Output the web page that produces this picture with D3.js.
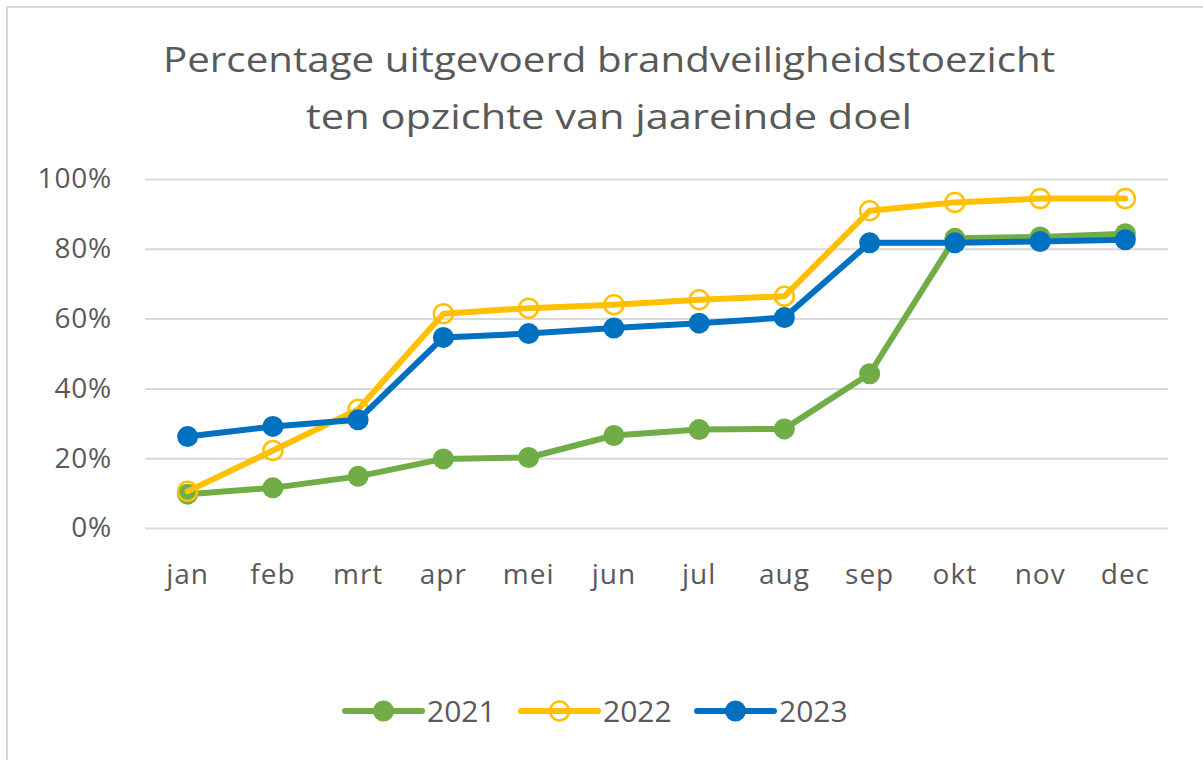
<!DOCTYPE html>
<html>
<head>
<meta charset="utf-8">
<script src="https://cdn.jsdelivr.net/npm/d3@7"></script>
<style>
  body { margin: 0; background: #fff; }
  svg { display: block; }
</style>
</head>
<body>
<svg id="chart" width="1203" height="760"></svg>
<script>
var months = ["jan", "feb", "mrt", "apr", "mei", "jun", "jul", "aug", "sep", "okt", "nov", "dec"];
var yTicks = [0, 0.2, 0.4, 0.6, 0.8, 1.0];
var titleLines = ["Percentage uitgevoerd brandveiligheidstoezicht", "ten opzichte van jaareinde doel"];

var values2021 = [0.097, 0.115, 0.148, 0.198, 0.202, 0.265, 0.282, 0.284, 0.442, 0.830, 0.834, 0.843];
var values2022 = [0.105, 0.222, 0.340, 0.614, 0.630, 0.640, 0.654, 0.664, 0.909, 0.933, 0.944, 0.944];
var values2023 = [0.262, 0.291, 0.310, 0.546, 0.557, 0.573, 0.587, 0.603, 0.817, 0.817, 0.821, 0.826];

var seriesNames = ["2021", "2022", "2023"];
var seriesColors = ["#70ad47", "#ffc000", "#0070c0"];
var seriesHollow = [false, true, false];

var series = seriesNames.map(function (name, i) {
  return {
    name: name,
    values: [values2021, values2022, values2023][i],
    color: seriesColors[i],
    hollow: seriesHollow[i]
  };
});

var textColor = "#595959",
  gridColor = "#d9d9d9",
  font = "'Open Sans', 'Liberation Sans', sans-serif";

var svg = d3.select("#chart");

// chart frame (runs past the right and bottom edge)
svg.append("rect")
  .attr("x", 7)
  .attr("y", 7)
  .attr("width", 1260)
  .attr("height", 800)
  .attr("fill", "#fff")
  .attr("stroke", gridColor)
  .attr("stroke-width", 2);

// title, stretched to the width seen in the picture
var titleWidths = [892, 606];
svg.append("g")
  .selectAll("text")
  .data(titleLines)
  .join("text")
  .attr("x", 609)
  .attr("y", function (d, i) { return 72 + i * 57; })
  .attr("text-anchor", "middle")
  .attr("font-family", font)
  .attr("font-size", 34)
  .attr("fill", textColor)
  .attr("textLength", function (d, i) { return titleWidths[i]; })
  .attr("lengthAdjust", "spacingAndGlyphs")
  .text(function (d) { return d; });

var xScale = d3.scaleBand()
  .domain(months)
  .range([145, 1168]);

var yScale = d3.scaleLinear()
  .domain([0, 1])
  .range([528, 179]);

var xPos = function (m) { return xScale(m) + xScale.bandwidth() / 2; };

// gridlines + y labels
var yAxis = d3.axisLeft(yScale)
  .tickValues(yTicks)
  .tickSize(-(1168 - 145))
  .tickPadding(33)
  .tickFormat(d3.format(".0%"));

var gy = svg.append("g")
  .attr("transform", "translate(145,0)")
  .call(yAxis);
gy.select(".domain").remove();
gy.selectAll(".tick line")
  .attr("stroke", gridColor)
  .attr("stroke-width", 2);
gy.selectAll(".tick text")
  .attr("font-family", font)
  .attr("font-size", 28)
  .attr("fill", textColor)
  .attr("letter-spacing", 0.8);

// x labels
var xAxis = d3.axisBottom(xScale)
  .tickSize(0)
  .tickPadding(0);

var gx = svg.append("g")
  .attr("transform", "translate(0,528)")
  .call(xAxis);
gx.select(".domain").remove();
gx.selectAll(".tick text")
  .attr("font-family", font)
  .attr("font-size", 28)
  .attr("fill", textColor)
  .attr("dy", null)
  .attr("y", 56)
  .attr("letter-spacing", 1);

// series
var line = d3.line()
  .x(function (d, i) { return xPos(months[i]); })
  .y(function (d) { return yScale(d); });

var plot = svg.append("g").attr("class", "series");

series.forEach(function (s) {
  var g = plot.append("g");
  g.append("path")
    .datum(s.values)
    .attr("d", line)
    .attr("fill", "none")
    .attr("stroke", s.color)
    .attr("stroke-width", 6)
    .attr("stroke-linejoin", "round")
    .attr("stroke-linecap", "round");

  g.selectAll("circle")
    .data(s.values)
    .join("circle")
    .attr("cx", function (d, i) { return xPos(months[i]); })
    .attr("cy", function (d) { return yScale(d); })
    .attr("r", s.hollow ? 9.5 : 10.5)
    .attr("fill", s.hollow ? "none" : s.color)
    .attr("stroke", s.hollow ? s.color : "none")
    .attr("stroke-width", 2.5);
});

// legend
var legendX = d3.scaleOrdinal()
  .domain(seriesNames)
  .range([345, 521, 697]);

var legend = svg.append("g")
  .attr("class", "legend")
  .selectAll("g")
  .data(series)
  .join("g")
  .attr("transform", function (d) { return "translate(" + legendX(d.name) + ",711)"; });

legend.append("line")
  .attr("x1", 0)
  .attr("x2", 77)
  .attr("stroke", function (d) { return d.color; })
  .attr("stroke-width", 6)
  .attr("stroke-linecap", "round");

legend.append("circle")
  .attr("cx", 38.5)
  .attr("r", function (d) { return d.hollow ? 9.5 : 10.5; })
  .attr("fill", function (d) { return d.hollow ? "none" : d.color; })
  .attr("stroke", function (d) { return d.hollow ? d.color : "none"; })
  .attr("stroke-width", 2.5);

legend.append("text")
  .attr("x", 82)
  .attr("y", 11)
  .attr("font-family", font)
  .attr("font-size", 30)
  .attr("fill", textColor)
  .text(function (d) { return d.name; });
</script>
</body>
</html>
